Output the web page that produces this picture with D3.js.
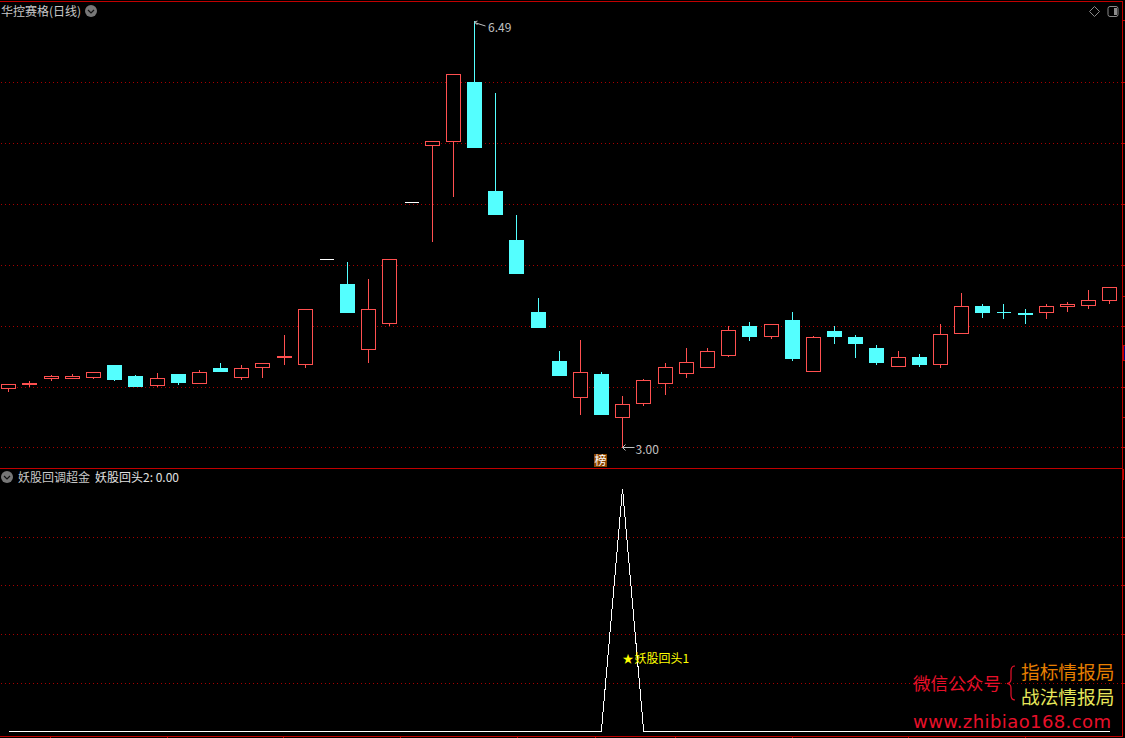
<!DOCTYPE html>
<html lang="zh">

<head>
  <meta charset="utf-8">
  <script src="https://d3js.org/d3.v7.min.js"></script>
  <style>
    html, body { margin: 0; padding: 0; background: #000; overflow: hidden; }
    svg { display: block; }
    text { font-family: "Noto Sans CJK SC", sans-serif; }
  </style>
</head>

<body>
  <script>
    // Daily prices
    const opens  = [3.48,3.51,3.56,3.56,3.57,3.67,3.58,3.50,3.60,3.52,3.65,3.57,3.65,3.73,3.67,4.54,4.34,3.80,4.01,5.01,5.47,5.50,5.99,5.10,4.70,4.11,3.71,3.40,3.60,3.24,3.35,3.52,3.60,3.65,3.75,3.99,3.90,4.04,3.62,3.95,3.90,3.81,3.66,3.74,3.67,3.93,4.16,4.11,4.10,4.10,4.15,4.16,4.20];
    const closes = [3.52,3.53,3.58,3.58,3.62,3.55,3.49,3.57,3.53,3.62,3.62,3.65,3.69,3.75,4.13,4.54,4.10,4.13,4.54,5.01,5.51,6.06,5.45,4.90,4.42,3.98,3.58,3.62,3.26,3.35,3.55,3.66,3.70,3.79,3.96,3.90,4.01,3.72,3.90,3.90,3.85,3.69,3.74,3.67,3.93,4.16,4.10,4.10,4.08,4.16,4.17,4.21,4.31];
    const highs  = [3.52,3.54,3.59,3.60,3.62,3.67,3.59,3.61,3.60,3.63,3.69,3.67,3.69,3.92,4.13,4.54,4.52,4.38,4.54,5.01,5.51,6.06,6.49,5.90,4.90,4.22,3.79,3.88,3.62,3.42,3.56,3.69,3.81,3.81,3.99,4.03,4.01,4.11,3.91,3.99,3.92,3.84,3.79,3.76,4.01,4.26,4.17,4.17,4.13,4.17,4.19,4.29,4.31];
    const lows   = [3.45,3.49,3.54,3.56,3.56,3.54,3.49,3.49,3.51,3.52,3.62,3.55,3.57,3.67,3.65,4.54,4.10,3.69,3.99,5.01,4.68,5.05,5.45,4.90,4.42,3.98,3.58,3.26,3.26,3.00,3.34,3.43,3.57,3.65,3.74,3.87,3.89,3.71,3.62,3.85,3.73,3.67,3.66,3.66,3.65,3.93,4.06,4.05,4.01,4.05,4.11,4.13,4.17];
    const signal = opens.map((d, i) => i === 29 ? 1 : 0);

    // grid levels as they sit on the picture, a hair under the round prices
    const priceTicks = [3, 3.495, 3.995, 4.495, 4.995, 5.495, 5.995];
    const signalTicks = [0.2, 0.4, 0.6, 0.8];
    const bottomTicks = [50, 167, 283, 400, 517, 595, 675, 792, 908, 1025];
    const sideTicks = [20, 82, 143, 204, 265, 296, 326, 387, 417, 447, 537, 585, 634, 683];

    const titleText = "华控赛格(日线)";
    const indicatorName = "妖股回调超金";
    const indicatorValue = "妖股回头2: 0.00";
    const markText = "妖股回头1";

    const upColor = "#ff5050";
    const downColor = "#54ffff";
    const frameColor = "#c00000";
    const gridColor = "#a80000";

    const width = 1125; const height = 738;

    const svg = d3.select("body").append("svg")
      .attr("width", width)
      .attr("height", height)
      .style("background", "#000");

    const x = d3.scaleLinear().domain([0, opens.length - 1]).range([8.3, 1109.3]);
    const y = d3.scaleLinear().domain([3, 6.49]).range([447.2, 21.42]);
    const y2 = d3.scaleLinear().domain([0, 1]).range([731.2, 488.3]);

    const crisp = svg.append("g").attr("shape-rendering", "crispEdges");

    // dotted grid lines of both panes
    crisp.selectAll(".grid")
      .data(priceTicks.map(y).concat(signalTicks.map(y2)))
      .join("line")
      .attr("x1", 1).attr("x2", 1122)
      .attr("y1", d => Math.round(d) + 0.5).attr("y2", d => Math.round(d) + 0.5)
      .attr("stroke", gridColor)
      .attr("stroke-dasharray", "1 3");

    // candles
    const candleColor = i => closes[i] > opens[i] ? upColor : closes[i] < opens[i] ? downColor : "#fff";
    const candles = crisp.selectAll(".candle").data(opens).join("g");

    candles.append("line")
      .attr("x1", (d, i) => Math.round(x(i)) + 0.5).attr("x2", (d, i) => Math.round(x(i)) + 0.5)
      .attr("y1", (d, i) => Math.round(y(highs[i]))).attr("y2", (d, i) => Math.round(y(lows[i])))
      .attr("stroke", (d, i) => candleColor(i));

    // body as a path, so a flat doji still gets its stroke
    candles.append("path")
      .attr("d", (d, i) => {
        const top = Math.round(y(Math.max(opens[i], closes[i])));
        const bottom = Math.max(top, Math.round(y(Math.min(opens[i], closes[i]))) - 1);
        const left = Math.round(x(i)) - 6.5;
        return `M${left},${top + 0.5}H${left + 14}V${bottom + 0.5}H${left}Z`;
      })
      .attr("fill", (d, i) => closes[i] < opens[i] ? downColor : "#000")
      .attr("stroke", (d, i) => candleColor(i));

    // signal line in lower pane
    crisp.append("path")
      .datum(signal)
      .attr("fill", "none")
      .attr("stroke", "#fff")
      .attr("d", d3.line().x((d, i) => x(i) + 0.2).y(d => y2(d) + 0.3));

    // frame
    crisp.append("path")
      .attr("fill", "none")
      .attr("stroke", frameColor)
      .attr("d", "M0,1.5H1122.5V736.5H0M0,468.5H1122.5");
    crisp.selectAll(".btick").data(bottomTicks).join("line")
      .attr("x1", d => d + 0.5).attr("x2", d => d + 0.5)
      .attr("y1", 736).attr("y2", 738)
      .attr("stroke", frameColor);
    crisp.selectAll(".stick").data(sideTicks).join("line")
      .attr("x1", 1122).attr("x2", 1125)
      .attr("y1", d => d + 0.5).attr("y2", d => d + 0.5)
      .attr("stroke", frameColor);
    crisp.append("rect")
      .attr("x", 1123).attr("y", 345).attr("width", 4).attr("height", 15)
      .attr("fill", "#000080").attr("stroke", frameColor);
    crisp.append("rect")
      .attr("x", 1122).attr("y", 469).attr("width", 2).attr("height", 11)
      .attr("fill", frameColor);

    // high / low markers
    const hiIndex = d3.maxIndex(highs);
    const loIndex = d3.minIndex(lows);
    const markColor = "#c0c0c0";

    svg.append("path")
      .attr("fill", "none").attr("stroke", markColor)
      .attr("d", `M${Math.round(x(hiIndex)) + 3.5},25 l-3,-3 l3,-1 M${Math.round(x(hiIndex)) + 0.5},22.5 l11,3.5`);
    svg.append("text")
      .attr("x", 488).attr("y", 32)
      .attr("fill", markColor).attr("font-size", 12)
      .text(d3.format(".2f")(highs[hiIndex]));

    svg.append("path")
      .attr("fill", "none").attr("stroke", markColor)
      .attr("d", `M${Math.round(x(loIndex)) + 3.5},444.5 l-3,3 l3,3 M${Math.round(x(loIndex)) + 0.5},447.5 h12`);
    svg.append("text")
      .attr("x", 635.5).attr("y", 453.5)
      .attr("fill", markColor).attr("font-size", 12)
      .text(d3.format(".2f")(lows[loIndex]));

    // 榜 badge
    svg.append("rect")
      .attr("x", 594).attr("y", 454).attr("width", 13).attr("height", 13)
      .attr("fill", "#8a4500");
    svg.append("text")
      .attr("x", 600.5).attr("y", 465).attr("text-anchor", "middle")
      .attr("fill", "#fff").attr("font-size", 12)
      .text("榜");

    // titles
    svg.append("text")
      .attr("x", 1).attr("y", 16)
      .attr("fill", "#c8c8c8").attr("font-size", 12)
      .text(titleText);
    svg.append("text")
      .attr("x", 18).attr("y", 482)
      .attr("fill", "#c8c8c8").attr("font-size", 12)
      .text(indicatorName);
    svg.append("text")
      .attr("x", 95).attr("y", 482)
      .attr("fill", "#e0e0e0").attr("font-size", 12)
      .text(indicatorValue);

    // little dropdown buttons
    [[91, 11], [7, 477]].forEach(p => {
      svg.append("circle")
        .attr("cx", p[0]).attr("cy", p[1]).attr("r", 6)
        .attr("fill", "#777");
      svg.append("path")
        .attr("fill", "none").attr("stroke", "#111").attr("stroke-width", 1.2)
        .attr("d", `M${p[0] - 3},${p[1] - 1} l3,3 l3,-3`);
    });

    // corner controls
    svg.append("path")
      .attr("fill", "none").attr("stroke", "#8a8a8a")
      .attr("d", "M1094.5,6.5 l5,5 l-5,5 l-5,-5 z");
    svg.append("rect")
      .attr("x", 1108).attr("y", 6.5).attr("width", 10).attr("height", 10).attr("rx", 2)
      .attr("fill", "#000").attr("stroke", "#8a8a8a");
    svg.append("rect")
      .attr("x", 1114).attr("y", 8).attr("width", 3).attr("height", 7)
      .attr("fill", "#8a8a8a");

    // signal mark
    svg.append("text")
      .attr("x", 622.5).attr("y", 662.5)
      .attr("fill", "#ffff00").attr("font-size", 11)
      .text("★");
    svg.append("text")
      .attr("x", 634.5).attr("y", 662.5)
      .attr("fill", "#ffff00").attr("font-size", 12)
      .text(markText);

    // watermark
    svg.append("text")
      .attr("x", 913).attr("y", 690)
      .attr("fill", "#e8102a").attr("font-size", 17.6)
      .text("微信公众号");
    svg.append("path")
      .attr("fill", "none").attr("stroke", "#e8102a").attr("stroke-width", 1.2)
      .attr("d", "M1015,666 q-4,0 -4,5 v8 q0,4 -4,4.5 q4,0.5 4,4.5 v7 q0,5 4,5");
    svg.append("text")
      .attr("x", 1021).attr("y", 679)
      .attr("fill", "#e67e00").attr("font-size", 18.7)
      .text("指标情报局");
    svg.append("text")
      .attr("x", 1021).attr("y", 704)
      .attr("fill", "#e6e65a").attr("font-size", 18.7)
      .text("战法情报局");
    svg.append("text")
      .attr("x", 913).attr("y", 728)
      .attr("fill", "#e8102a")
      .style("font-family", "'DejaVu Sans', sans-serif")
      .attr("font-size", 18)
      .attr("textLength", 198)
      .text("www.zhibiao168.com");
  </script>
</body>

</html>
